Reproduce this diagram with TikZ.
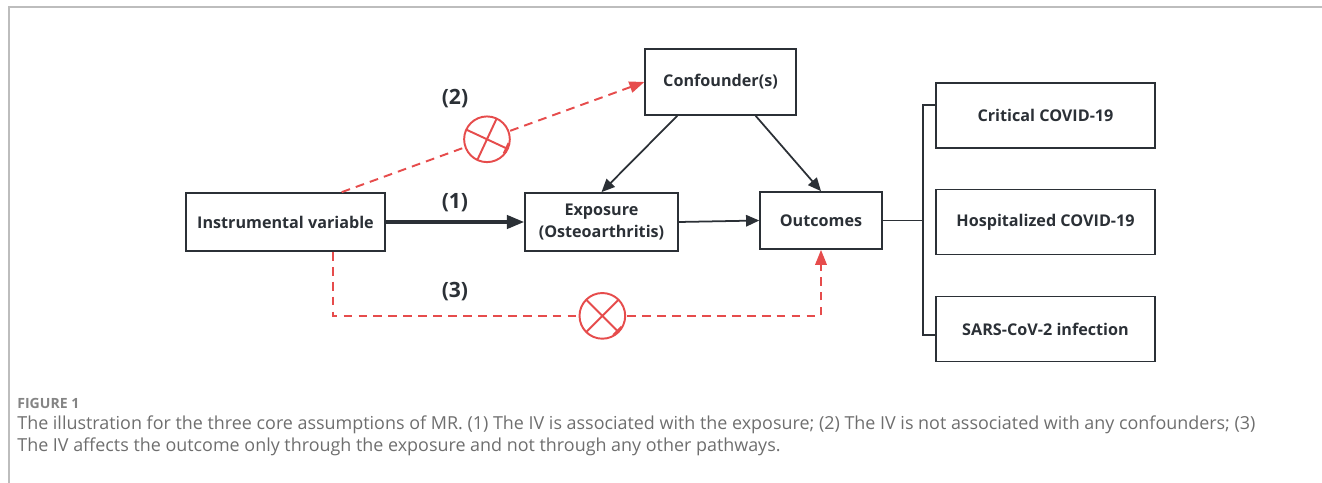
\documentclass[tikz,border=0pt]{standalone}
\usepackage{fontspec}
\setmainfont{Open Sans}
\usetikzlibrary{arrows.meta, positioning, calc}
\definecolor{linedark}{HTML}{2B3036}
\definecolor{ivred}{HTML}{E64C4C}
\definecolor{capgray}{HTML}{6E6E6E}
\definecolor{framegray}{HTML}{BDBDBD}

\begin{document}
\begin{tikzpicture}[
  x=0.02cm, y=-0.02cm,
  box/.style={rectangle, draw=linedark, line width=1.1pt, align=center, text=linedark, inner sep=0pt, font=\bfseries\fontsize{9.2}{12}\selectfont},
  lbl/.style={text=linedark, inner sep=0pt, font=\bfseries\fontsize{12}{14}\selectfont},
  arrow/.style={draw=linedark, line width=1pt, -{Triangle[length=7.5pt,width=6.5pt]}},
  link/.style={draw=linedark, line width=1pt},
  nolink/.style={draw=ivred, line width=1.1pt, dash pattern=on 5pt off 3.5pt, -{Triangle[length=8.5pt,width=6.5pt]}},
  crossmark/.style={circle, draw=ivred, line width=1.1pt, fill=white, minimum size=26pt, inner sep=0pt, solid,
    path picture={\draw[ivred, line width=1.1pt]
      ($(path picture bounding box.center)+(45+#1:20pt)$) -- ($(path picture bounding box.center)+(225+#1:20pt)$)
      ($(path picture bounding box.center)+(135+#1:20pt)$) -- ($(path picture bounding box.center)+(315+#1:20pt)$);}},
  crossmark/.default=0
]
\useasboundingbox (0,0) rectangle (1322,483);
\draw[framegray, line width=0.8pt] (9,483) -- (9,7) -- (1322,7);

% main nodes
\node[box, minimum width=112.8pt, minimum height=32.9pt] (iv) at (285.5,222) {Instrumental variable};
\node[box, minimum width=86.7pt, minimum height=32.9pt] (expo) at (601.5,222) {Exposure\\(Osteoarthritis)};
\node[box, minimum width=85.6pt, minimum height=37.4pt] (conf) at (720.5,82) {Confounder(s)};
\node[box, minimum width=69.2pt, minimum height=32.3pt] (outc) at (821,220.5) {Outcomes};

% outcome boxes
\node[box, minimum width=124.2pt, minimum height=37pt] (crit) at (1045.5,115.5) {Critical COVID-19};
\node[box, minimum width=124.2pt, minimum height=37pt] (hosp) at (1045.5,222) {Hospitalized COVID-19};
\node[box, minimum width=124.2pt, minimum height=37pt] (sars) at (1045.5,329) {SARS-CoV-2 infection};

% assumption (1)
\draw[arrow, line width=2.2pt, -{Triangle[length=10pt,width=7.5pt]}] (iv) -- node[lbl, above=4.5pt] {(1)} (expo);
\draw[arrow] (expo.east) -- (outc.west);
\draw[arrow] ([xshift=18.7pt]conf.south west) -- (expo.north);
\draw[arrow] ([xshift=20pt]conf.south) -- (outc.north);

% assumption (2)
\draw[nolink] ([xshift=32pt]iv.north) -- node[crossmark=20, pos=0.48] (x2) {} (conf.west);
\node[lbl] (lab2) at (455,99) {(2)};

% assumption (3)
\draw[nolink] ([xshift=27pt]iv.south) -- ++(0,64) -| node[lbl, pos=0.125, above=8pt] {(3)} node[crossmark, pos=0.276] (x3) {} (outc.south);

% fork to outcome boxes
\coordinate (fork) at ($(outc.east)+(40,0)$);
\draw[link] (outc.east) -- (fork);
\draw[link] ([yshift=6pt]crit.west) -| (fork) |- ([yshift=-3.4pt]sars.west);

% caption
\node[anchor=west, inner sep=0pt, text=capgray!85, font=\bfseries\fontsize{8}{9}\selectfont] (figno) at (17,403) {FIGURE 1};
\node[anchor=north west, inner sep=0pt, align=left, text=capgray, font=\fontsize{10.2}{13}\selectfont] (caption) at (17,415)
  {The illustration for the three core assumptions of MR. (1) The IV is associated with the exposure; (2) The IV is not associated with any confounders; (3)\\
   The IV affects the outcome only through the exposure and not through any other pathways.};
\end{tikzpicture}
\end{document}
